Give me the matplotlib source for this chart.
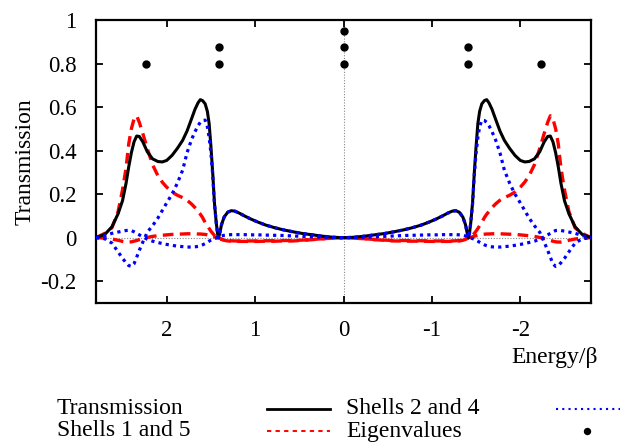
import numpy as np
import matplotlib
matplotlib.use("Agg")
import matplotlib.pyplot as plt
from matplotlib.lines import Line2D

plt.rcParams['font.family'] = ['Liberation Serif', 'DejaVu Serif']
plt.rcParams['mathtext.fontset'] = 'stix'

# Energies (units of beta) for the positive half of the spectrum; the
# curves are symmetric about E = 0.
energy_half = np.array([
    2.80, 2.70, 2.62, 2.55, 2.50, 2.46, 2.43, 2.40, 2.37, 2.34, 2.31, 2.27,
    2.22, 2.16, 2.10, 2.05, 2.00, 1.94, 1.88, 1.82, 1.77, 1.72, 1.68, 1.645,
    1.62, 1.595, 1.565, 1.54, 1.52, 1.50, 1.48, 1.46, 1.44, 1.425, 1.414,
    1.40, 1.38, 1.35, 1.31, 1.27, 1.23, 1.18, 1.12, 1.05, 0.97, 0.88, 0.78,
    0.68, 0.57, 0.46, 0.35, 0.24, 0.12, 0.0])

transmission_half = [
    0.0, 0.015, 0.05, 0.11, 0.17, 0.25, 0.325, 0.39, 0.44, 0.467, 0.465, 0.44,
    0.395, 0.362, 0.35, 0.348, 0.355, 0.378, 0.41, 0.447, 0.49, 0.545, 0.59, 0.62,
    0.634, 0.63, 0.615, 0.58, 0.524, 0.42, 0.30, 0.16, 0.07, 0.02, 0.0,
    0.02, 0.06, 0.095, 0.117, 0.124, 0.122, 0.113, 0.100, 0.086, 0.072, 0.058, 0.046,
    0.036, 0.027, 0.019, 0.013, 0.007, 0.002, 0.0]

shell2_half = [
    0.0, -0.005, -0.025, -0.065, -0.095, -0.115, -0.128, -0.132, -0.12, -0.09, -0.058, -0.02,
    0.025, 0.055, 0.09, 0.125, 0.16, 0.20, 0.25, 0.31, 0.39, 0.45, 0.487, 0.515,
    0.53, 0.538, 0.54, 0.51, 0.46, 0.39, 0.29, 0.155, 0.07, 0.02, 0.0,
    0.02, 0.06, 0.095, 0.117, 0.124, 0.122, 0.113, 0.100, 0.086, 0.072, 0.058, 0.046,
    0.036, 0.027, 0.019, 0.013, 0.007, 0.002, 0.0]

shell4_half = [
    0.0, 0.01, 0.02, 0.026, 0.03, 0.033, 0.034, 0.033, 0.027, 0.02, 0.013, 0.004,
    -0.007, -0.016, -0.022, -0.027, -0.031, -0.035, -0.039, -0.041, -0.043, -0.043, -0.042, -0.04,
    -0.037, -0.033, -0.027, -0.021, -0.016, -0.011, -0.007, -0.004, -0.002, -0.001, 0.0,
    0.004, 0.008, 0.011, 0.013, 0.014, 0.014, 0.014, 0.014, 0.013, 0.013, 0.012, 0.011,
    0.010, 0.008, 0.006, 0.004, 0.002, 0.001, 0.0]

shell1_half = [
    0.0, 0.02, 0.045, 0.12, 0.22, 0.32, 0.43, 0.50, 0.545, 0.56, 0.53, 0.478,
    0.41, 0.335, 0.285, 0.255, 0.232, 0.21, 0.195, 0.184, 0.172, 0.155, 0.138, 0.12,
    0.108, 0.093, 0.07, 0.055, 0.042, 0.03, 0.02, 0.01, 0.004, 0.001, 0.0,
    -0.004, -0.008, -0.012, -0.015, -0.016, -0.017, -0.017, -0.017, -0.017, -0.017, -0.016, -0.016,
    -0.015, -0.015, -0.012, -0.009, -0.005, -0.002, 0.0]

shell5_half = [
    0.0, -0.002, -0.006, -0.012, -0.017, -0.02, -0.02, -0.019, -0.016, -0.013, -0.009, -0.004,
    0.001, 0.006, 0.009, 0.011, 0.013, 0.015, 0.016, 0.017, 0.018, 0.018, 0.018, 0.017,
    0.017, 0.016, 0.015, 0.013, 0.011, 0.009, 0.007, 0.004, 0.002, 0.001, 0.0,
    -0.003, -0.007, -0.011, -0.013, -0.014, -0.015, -0.015, -0.015, -0.015, -0.015, -0.014, -0.014,
    -0.013, -0.013, -0.011, -0.008, -0.005, -0.002, 0.0]

# Eigenvalues, stacked vertically by degeneracy
eig_energy = [2.236, 1.414, 1.414, 0.0, 0.0, 0.0, -1.414, -1.414, -2.236]
eig_level = [0.8, 0.8, 0.875, 0.8, 0.875, 0.95, 0.8, 0.875, 0.8]

x_ticks = [2, 1, 0, -1, -2]
x_ticklabels = ["2", "1", "0", "-1", "-2"]
y_ticks = [-0.2, 0, 0.2, 0.4, 0.6, 0.8, 1]
y_ticklabels = ["-0.2", "0", "0.2", "0.4", "0.6", "0.8", "1"]


def full(values):
    v = np.asarray(values, dtype=float)
    return np.concatenate([v, v[::-1][1:]])


energy = np.concatenate([energy_half, -energy_half[::-1][1:]])

fig = plt.figure(figsize=(6.2, 4.43), dpi=100)
ax = fig.add_axes([96 / 620, 1 - 303 / 443, 495 / 620, 283 / 443])

ax.axhline(0, color='#888888', lw=0.8, ls=(0, (1, 1.5)), zorder=1)
ax.axvline(0, color='#888888', lw=0.8, ls=(0, (1, 1.5)), zorder=1)

blue_style = dict(color='#0000ff', lw=2.3, ls=(0, (1.0, 1.3)), dash_capstyle='butt')
red_style = dict(color='#ff0000', lw=2.4, ls=(0, (3.2, 1.9)), dash_capstyle='butt')

ax.plot(energy, full(shell1_half), **red_style, zorder=2)
ax.plot(energy, full(shell5_half), **red_style, zorder=2)
ax.plot(energy, full(transmission_half), color='black', lw=2.2, zorder=3)
ax.plot(energy, full(shell2_half), **blue_style, zorder=4)
ax.plot(energy, full(shell4_half), **blue_style, zorder=4)
ax.plot(eig_energy, eig_level, 'o', color='black', ms=5, zorder=5)

ax.set_xlim(2.8, -2.8)
ax.set_ylim(-0.3, 1.0)
ax.set_xticks(x_ticks)
ax.set_xticklabels(x_ticklabels)
ax.set_yticks(y_ticks)
ax.set_yticklabels(y_ticklabels)
ax.tick_params(direction='in', length=5, width=1.3, labelsize=16.5,
               top=True, right=True, pad=12)
ax.tick_params(axis='y', pad=14)
for sp in ax.spines.values():
    sp.set_linewidth(1.6)

fig.text(555 / 620, 1 - 357 / 443, "Energy/β", fontsize=17, ha='center', va='center')
fig.text(25 / 620, 1 - 162 / 443, "Transmission", fontsize=17, ha='center',
         va='center', rotation=90)

# Key below the plot
row1, row2 = 1 - 409 / 443, 1 - 431 / 443
fig.text(57 / 620, row1, "Transmission", fontsize=17, va='center')
fig.text(57 / 620, row2, "Shells 1 and 5", fontsize=17, va='center')
fig.text(346 / 620, row1, "Shells 2 and 4", fontsize=17, va='center')
fig.text(346 / 620, row2, "Eigenvalues", fontsize=17, va='center')
fig.add_artist(Line2D([267 / 620, 330 / 620], [row1, row1], color='black', lw=2.0))
fig.add_artist(Line2D([267 / 620, 330 / 620], [row2, row2], color='#ff0000', lw=1.4,
                      ls=(0, (2.2, 2.2))))
fig.add_artist(Line2D([556 / 620, 622 / 620], [row1, row1], color='#0000ff', lw=1.5,
                      ls=(0, (1, 2))))
fig.add_artist(Line2D([587 / 620], [row2], marker='o', color='black', ms=4.3, ls='none'))

fig.savefig("out.png", dpi=100)
